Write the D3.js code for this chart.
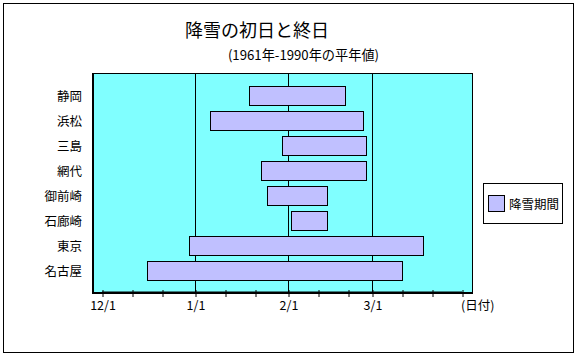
<!DOCTYPE html>
<html><head><meta charset="utf-8">
<script src="https://cdn.jsdelivr.net/npm/d3@7"></script>
<style>
html,body{margin:0;padding:0;background:#fff;}
text{font-family:"Noto Sans CJK JP","Noto Sans",sans-serif;fill:#000;}
</style></head>
<body><svg id="c" width="580" height="360"></svg>
<script>
const categories = ["静岡","浜松","三島","網代","御前崎","石廊崎","東京","名古屋"];
const firstDay = ["1/19","1/6","1/30","1/23","1/25","2/2","12/30","12/16"];
const lastDay  = ["2/20","2/26","2/27","2/27","2/14","2/14","3/18","3/11"];
const tickDates = ["12/1","12/11","12/21","1/1","1/11","1/21","2/1","2/11","2/21","3/1","3/11","3/21","3/31"];
const tickLabels = ["12/1","","","1/1","","","2/1","","","3/1","","","(日付)"];
const gridDates = ["1/1","2/1","3/1"];
const title = "降雪の初日と終日";
const subtitle = "(1961年-1990年の平年値)";
const legendLabel = "降雪期間";

function parseMD(s){const [m,d]=s.split("/").map(Number);return new Date(Date.UTC(m>=12?1990:1991,m-1,d));}

const svg = d3.select("#c");
svg.append("rect").attr("x",3.5).attr("y",3.5).attr("width",570).attr("height",349)
  .attr("fill","#fff").attr("stroke","#000").attr("stroke-width",1);

const x = d3.scaleUtc().domain([parseMD("12/1"),parseMD("3/31")]).range([102.5,462.5]);
const y = d3.scaleBand().domain(categories).range([83.5,283.5]).paddingInner(0.24).paddingOuter(0.12);

// plot area
svg.append("rect").attr("x",93).attr("y",73.5).attr("width",379.5).attr("height",219.5)
  .attr("fill","#80FFFF").attr("stroke","#000").attr("stroke-width",1);

// gridlines
svg.append("g").selectAll("line").data(gridDates).join("line")
  .attr("x1",d=>Math.floor(x(parseMD(d)))+0.5).attr("x2",d=>Math.floor(x(parseMD(d)))+0.5)
  .attr("y1",73.5).attr("y2",292).attr("stroke","#000").attr("stroke-width",1);

// dotted line
svg.append("line").attr("x1",x(parseMD("12/1"))).attr("x2",x(parseMD("3/31")))
  .attr("y1",291.5).attr("y2",291.5).attr("stroke","#000").attr("stroke-width",1)
  .attr("stroke-dasharray","1,1");

// bars
svg.append("g").selectAll("rect").data(categories).join("rect")
  .attr("x",(d,i)=>x(parseMD(firstDay[i])))
  .attr("y",d=>y(d))
  .attr("width",(d,i)=>x(parseMD(lastDay[i]))-x(parseMD(firstDay[i])))
  .attr("height",y.bandwidth())
  .attr("fill","#C0C0FF").attr("stroke","#000").attr("stroke-width",1);

// axes lines (thick)
svg.append("line").attr("x1",92).attr("x2",473).attr("y1",293).attr("y2",293).attr("stroke","#000").attr("stroke-width",2);
svg.append("line").attr("x1",93).attr("x2",93).attr("y1",73).attr("y2",294).attr("stroke","#000").attr("stroke-width",2);

// x axis
const xa = d3.axisBottom(x).tickValues(tickDates.map(parseMD)).tickSize(7).tickPadding(4.5)
  .tickFormat((d,i)=>tickLabels[i]);
const gx = svg.append("g").attr("transform","translate(0,290)").call(xa);
gx.select(".domain").remove();
gx.selectAll(".tick line").attr("stroke","#000");
gx.selectAll(".tick text").attr("font-size",12.5).attr("fill","#000")
  .style("font-family",'"Noto Sans CJK JP",sans-serif');
gx.selectAll(".tick text").filter((d,i)=>i===tickLabels.length-1).attr("text-anchor","start").attr("x",-2);

// y labels
svg.append("g").selectAll("text").data(categories).join("text")
  .attr("x",82).attr("y",d=>y(d)+y.bandwidth()/2).attr("dy","0.36em")
  .attr("text-anchor","end").attr("font-size",12.5).text(d=>d);

// titles
svg.append("text").attr("x",257).attr("y",37).attr("text-anchor","middle").attr("font-size",18).text(title);
svg.append("text").attr("x",303.5).attr("y",60).attr("text-anchor","middle").attr("font-size",13.2).text(subtitle);

// legend
svg.append("rect").attr("x",483.5).attr("y",183.5).attr("width",79).attr("height",40)
  .attr("fill","#fff").attr("stroke","#000");
svg.append("rect").attr("x",488.5).attr("y",195.5).attr("width",16).attr("height",16)
  .attr("fill","#C0C0FF").attr("stroke","#000");
svg.append("text").attr("x",509).attr("y",204).attr("dy","0.36em").attr("font-size",12.5).text(legendLabel);
</script></body></html>
